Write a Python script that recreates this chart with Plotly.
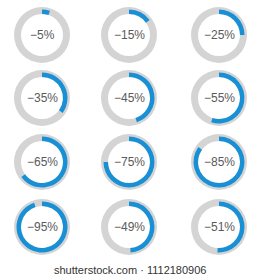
import plotly.graph_objects as go

percents = [5, 15, 25, 35, 45, 55, 65, 75, 85, 95, 49, 51]
labels = ["−5%", "−15%", "−25%", "−35%", "−45%", "−55%",
          "−65%", "−75%", "−85%", "−95%", "−49%", "−51%"]
col_centers = [42, 129, 219]
row_centers = [35, 98, 162, 227]

W, H = 260, 280
R_OUT, R_IN, R_BLUE = 28.0, 21.0, 25.5
GREY = "#d4d4d4"
BLUE = "#1890d5"

fig = go.Figure()
annotations = []
for i, (p, lab) in enumerate(zip(percents, labels)):
    cx = col_centers[i % 3]
    cy = row_centers[i // 3]
    # grey full ring
    fig.add_trace(go.Pie(
        values=[1], marker=dict(colors=[GREY], line=dict(width=0)),
        hole=R_IN / R_OUT, sort=False, textinfo="none", hoverinfo="skip",
        showlegend=False,
        domain=dict(x=[(cx - R_OUT) / W, (cx + R_OUT) / W],
                    y=[(H - cy - R_OUT) / H, (H - cy + R_OUT) / H])))
    # blue arc
    fig.add_trace(go.Pie(
        values=[p, 100 - p],
        marker=dict(colors=[BLUE, "rgba(0,0,0,0)"], line=dict(width=0)),
        hole=R_IN / R_BLUE, sort=False, direction="clockwise", rotation=0,
        textinfo="none", hoverinfo="skip", showlegend=False,
        domain=dict(x=[(cx - R_BLUE) / W, (cx + R_BLUE) / W],
                    y=[(H - cy - R_BLUE) / H, (H - cy + R_BLUE) / H])))
    annotations.append(dict(
        x=cx / W, y=(H - cy) / H, xref="paper", yref="paper",
        xanchor="center", yanchor="middle",
        text=lab, showarrow=False,
        font=dict(family="Liberation Sans, Arial, sans-serif", size=12, color="#5a5a5a")))

annotations.append(dict(
    x=0.5, y=(H - 270) / H, xref="paper", yref="paper",
    xanchor="center", yanchor="middle",
    text="shutterstock.com · 1112180906", showarrow=False,
    font=dict(family="Liberation Sans, Arial, sans-serif", size=11, color="#333333")))

fig.update_layout(
    width=W, height=H, margin=dict(l=0, r=0, t=0, b=0),
    paper_bgcolor="white", plot_bgcolor="white",
    annotations=annotations)

fig.write_html("out.html", config={"displayModeBar": False})
